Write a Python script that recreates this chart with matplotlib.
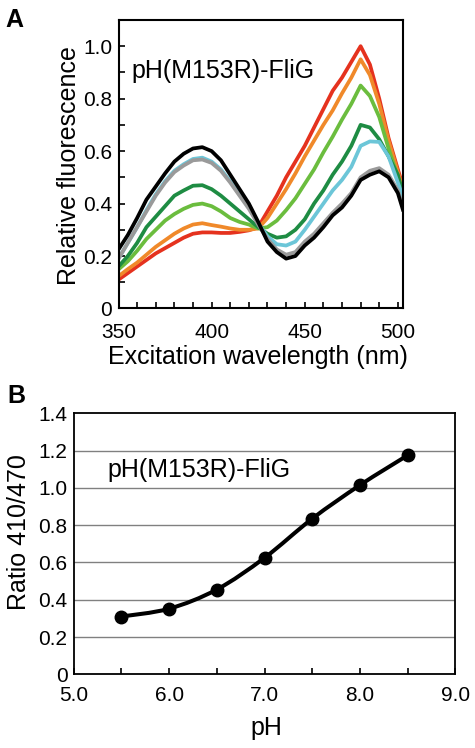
import matplotlib
matplotlib.use("Agg")
import matplotlib.pyplot as plt
from matplotlib.path import Path
from matplotlib.patches import PathPatch
from matplotlib.ticker import MultipleLocator, FixedLocator, FuncFormatter
import numpy as np

plt.rcParams.update({
    "font.family": ["Liberation Sans", "DejaVu Sans"],
    "font.size": 15,
})

# ---------------------------------------------------------------------------
# Data
# ---------------------------------------------------------------------------
wavelength = [350, 355, 360, 365, 370, 375, 380, 385, 390, 395, 400, 405,
              410, 415, 420, 425, 430, 435, 440, 445, 450, 455, 460, 465,
              470, 475, 480, 485, 490, 495, 500, 503]

red = [0.11, 0.135, 0.16, 0.185, 0.21, 0.23, 0.25, 0.27, 0.285, 0.29, 0.29, 0.288,
       0.288, 0.292, 0.298, 0.31, 0.37, 0.43, 0.50, 0.56, 0.62, 0.69, 0.76, 0.83,
       0.88, 0.94, 1.0, 0.93, 0.80, 0.65, 0.53, 0.46]
orange = [0.123, 0.15, 0.175, 0.205, 0.235, 0.26, 0.285, 0.305, 0.32, 0.325, 0.318, 0.312,
          0.305, 0.30, 0.30, 0.305, 0.345, 0.40, 0.455, 0.515, 0.58, 0.64, 0.70, 0.755,
          0.82, 0.88, 0.95, 0.89, 0.78, 0.64, 0.52, 0.45]
light_green = [0.149, 0.18, 0.22, 0.265, 0.30, 0.335, 0.36, 0.38, 0.395, 0.40, 0.39, 0.37,
               0.345, 0.33, 0.32, 0.305, 0.31, 0.335, 0.375, 0.42, 0.475, 0.53, 0.595, 0.655,
               0.72, 0.78, 0.85, 0.81, 0.73, 0.61, 0.50, 0.44]
dark_green = [0.16, 0.20, 0.25, 0.31, 0.35, 0.39, 0.43, 0.45, 0.468, 0.47, 0.455, 0.43,
              0.40, 0.37, 0.34, 0.31, 0.285, 0.27, 0.275, 0.30, 0.34, 0.40, 0.45, 0.51,
              0.56, 0.62, 0.70, 0.69, 0.645, 0.58, 0.51, 0.43]
cyan = [0.19, 0.25, 0.31, 0.375, 0.435, 0.485, 0.525, 0.55, 0.57, 0.575, 0.56, 0.53,
        0.485, 0.435, 0.385, 0.325, 0.275, 0.245, 0.24, 0.255, 0.30, 0.35, 0.40, 0.45,
        0.49, 0.54, 0.62, 0.637, 0.635, 0.58, 0.48, 0.42]
gray = [0.19, 0.25, 0.31, 0.37, 0.43, 0.48, 0.52, 0.545, 0.565, 0.568, 0.555, 0.525,
        0.48, 0.43, 0.38, 0.32, 0.265, 0.225, 0.205, 0.215, 0.255, 0.285, 0.325, 0.365,
        0.40, 0.44, 0.50, 0.525, 0.535, 0.51, 0.45, 0.38]
black = [0.225, 0.28, 0.345, 0.415, 0.465, 0.515, 0.56, 0.59, 0.61, 0.615, 0.60, 0.565,
         0.51, 0.455, 0.40, 0.33, 0.255, 0.215, 0.19, 0.20, 0.24, 0.27, 0.31, 0.355,
         0.385, 0.43, 0.49, 0.51, 0.523, 0.50, 0.44, 0.37]

spectra = [red, orange, light_green, dark_green, cyan, gray, black]
spectra_colors = ["#e5321e", "#f0892a", "#6bbd3e", "#1e8c43", "#6cc6d8", "#9a9a9a", "#000000"]

ph = [5.5, 6.0, 6.5, 7.0, 7.5, 8.0, 8.5]
ratio = [0.31, 0.352, 0.455, 0.625, 0.835, 1.015, 1.175]


def smooth_path(xs, ys, k=1 / 6):
    """Catmull-Rom style cubic bezier path through the points."""
    pts = list(zip(xs, ys))
    verts, codes = [pts[0]], [Path.MOVETO]
    for i in range(len(pts) - 1):
        p0 = pts[i - 1] if i > 0 else pts[i]
        p1, p2 = pts[i], pts[i + 1]
        p3 = pts[i + 2] if i + 2 < len(pts) else pts[i + 1]
        c1 = (p1[0] + (p2[0] - p0[0]) * k, p1[1] + (p2[1] - p0[1]) * k)
        c2 = (p2[0] - (p3[0] - p1[0]) * k, p2[1] - (p3[1] - p1[1]) * k)
        verts += [c1, c2, p2]
        codes += [Path.CURVE4] * 3
    return Path(verts, codes)


fig = plt.figure(figsize=(4.75, 7.48), dpi=100)

# ---------------------------------------------------------------------------
# Panel A: excitation spectra
# ---------------------------------------------------------------------------
axA = fig.add_axes([0.2495, 0.5876, 0.5979, 0.3857])
for ys, c in zip(spectra, spectra_colors):
    axA.plot(wavelength, ys, color=c, lw=2.7, solid_joinstyle="round",
             solid_capstyle="butt")
axA.set_xlim(350, 502.5)
axA.set_ylim(0, 1.1)
axA.xaxis.set_major_locator(FixedLocator([350, 400, 450, 500]))
axA.xaxis.set_minor_locator(MultipleLocator(10))
axA.yaxis.set_major_locator(FixedLocator([0, 0.2, 0.4, 0.6, 0.8, 1.0]))
axA.yaxis.set_minor_locator(MultipleLocator(0.1))
axA.yaxis.set_major_formatter(FuncFormatter(lambda v, p: "0" if v == 0 else f"{v:.1f}"))
axA.tick_params(which="both", direction="in", length=4, width=1.2,
                top=False, right=False)
axA.tick_params(axis="x", which="major", pad=10.5)
axA.tick_params(axis="y", which="major", pad=4.5)
for s in axA.spines.values():
    s.set_linewidth(1.5)
axA.set_xlabel("Excitation wavelength (nm)", fontsize=18)
axA.set_ylabel("Relative fluorescence", fontsize=18)
axA.xaxis.set_label_coords(0.49, -0.125)
axA.yaxis.set_label_coords(-0.133, 0.497)
axA.text(0.046, 0.80, "pH(M153R)-FliG", transform=axA.transAxes,
         fontsize=18, va="baseline", ha="left")

# ---------------------------------------------------------------------------
# Panel B: ratio vs pH
# ---------------------------------------------------------------------------
axB = fig.add_axes([0.1551, 0.0985, 0.8036, 0.3489])
axB.set_xlim(5, 9)
axB.set_ylim(0, 1.4)
for y in np.arange(0.2, 1.3, 0.2):
    axB.axhline(y, color="#808080", lw=1.0, zorder=1)
axB.add_patch(PathPatch(smooth_path(ph, ratio), facecolor="none",
                        edgecolor="black", lw=2.9, zorder=3))
axB.plot(ph, ratio, "o", color="black", ms=9, zorder=4)
axB.xaxis.set_major_locator(FixedLocator([5, 6, 7, 8, 9]))
axB.xaxis.set_minor_locator(FixedLocator([5.5, 6.5, 7.5, 8.5]))
axB.xaxis.set_major_formatter(FuncFormatter(lambda v, p: f"{v:.1f}"))
axB.yaxis.set_major_locator(FixedLocator(np.round(np.arange(0, 1.41, 0.2), 1)))
axB.yaxis.set_major_formatter(FuncFormatter(lambda v, p: "0" if v == 0 else f"{v:.1f}"))
axB.tick_params(axis="x", which="both", direction="in", length=4, width=1.2, pad=8.5)
axB.tick_params(axis="y", length=0, pad=4.5)
for s in axB.spines.values():
    s.set_linewidth(1.3)
axB.set_xlabel("pH", fontsize=18)
axB.set_ylabel("Ratio 410/470", fontsize=18)
axB.xaxis.set_label_coords(0.505, -0.158)
axB.yaxis.set_label_coords(-0.113, 0.546)
axB.text(0.088, 0.757, "pH(M153R)-FliG", transform=axB.transAxes,
         fontsize=18, va="baseline", ha="left")

# panel letters
fig.text(5 / 475, 1 - 8 / 748, "A", fontsize=18, fontweight="bold", va="top", ha="left")
fig.text(7 / 475, 1 - 384 / 748, "B", fontsize=18, fontweight="bold", va="top", ha="left")

fig.savefig("out.png", dpi=100)
